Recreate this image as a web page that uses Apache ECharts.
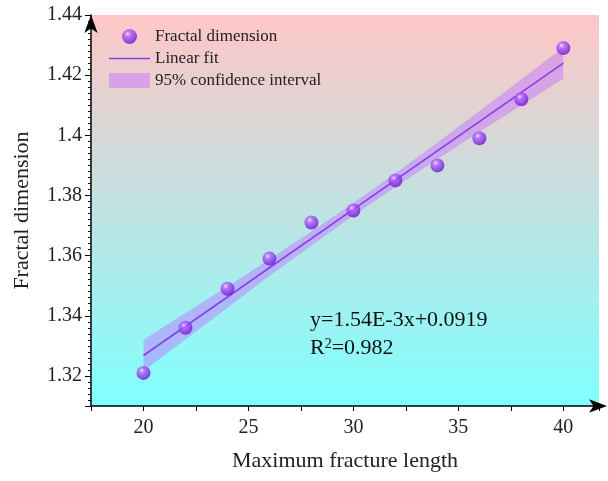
<!DOCTYPE html>
<html>
<head>
<meta charset="utf-8">
<script src="https://cdn.jsdelivr.net/npm/echarts@6/dist/echarts.min.js"></script>
<style>
  html, body { margin: 0; padding: 0; background: #fff; }
  #main { width: 608px; height: 481px; }
</style>
</head>
<body>
<div id="main"></div>
<script>
// measured points
var lengths = [20, 22, 24, 26, 28, 30, 32, 34, 36, 38, 40];
var fractalDim = [1.321, 1.336, 1.349, 1.359, 1.371, 1.375, 1.385, 1.390, 1.399, 1.412, 1.429];

// fit line ends and 95% band
var fitX = [20, 40];
var fitY = [1.3268, 1.4240];
var bandLower = [1.3216, 1.3322, 1.3427, 1.3532, 1.3634, 1.3733, 1.3828, 1.3920, 1.4011, 1.4100, 1.4188];
var bandUpper = [1.3320, 1.3409, 1.3497, 1.3588, 1.3680, 1.3775, 1.3874, 1.3976, 1.4081, 1.4186, 1.4292];

var xLabels = [20, 25, 30, 35, 40];
var yLabels = [1.32, 1.34, 1.36, 1.38, 1.40, 1.42, 1.44];

var FONT = "'Liberation Serif', 'Times New Roman', serif";
var PURPLE = "#8a3cf0";
var BAND = "rgba(190, 110, 255, 0.45)";

var ballColor = {
  type: "radial", x: 0.38, y: 0.32, r: 0.7,
  colorStops: [
    { offset: 0, color: "#f6e6ff" },
    { offset: 0.25, color: "#b565ff" },
    { offset: 1, color: "#6a10d0" },
  ],
};

document.addEventListener("DOMContentLoaded", function () {
  var chart = echarts.init(document.getElementById("main"));

  var option = {
    animation: false,
    grid: {
      left: 91, right: 9, top: 15, bottom: 75,
      show: true,
      borderWidth: 0,
      backgroundColor: {
        type: "linear", x: 0, y: 0, x2: 0, y2: 1,
        colorStops: [
          { offset: 0, color: "#ffc6c6" },
          { offset: 1, color: "#80ffff" },
        ],
      },
    },
    legend: {
      orient: "vertical",
      left: 104, top: 23,
      itemWidth: 41, itemHeight: 15, itemGap: 5,
      textStyle: { fontFamily: FONT, fontSize: 17, color: "#222" },
      data: [
        { name: "Fractal dimension", icon: "circle", itemStyle: { color: ballColor } },
        { name: "Linear fit", icon: "path://M0,0 L40,0 L40,1.6 L0,1.6 Z", itemStyle: { color: PURPLE } },
        { name: "95% confidence interval", icon: "rect", itemStyle: { color: BAND } },
      ],
    },
    xAxis: [
      {
        type: "value", min: 17.5, max: 41.7, interval: 2.5, position: "bottom",
        name: "Maximum fracture length", nameLocation: "middle", nameGap: 44,
        nameTextStyle: { fontFamily: FONT, fontSize: 22, color: "#222" },
        axisLine: { show: true, lineStyle: { color: "#000", width: 1.5 }, symbol: ["none", "arrow"], symbolSize: [10, 18], symbolOffset: [0, 8] },
        axisTick: { show: true, length: 5, lineStyle: { color: "#000", width: 1 } },
        axisLabel: { customValues: xLabels, margin: 12, fontFamily: FONT, fontSize: 20, color: "#222" },
        splitLine: { show: false },
      },
    ],
    yAxis: [
      {
        type: "value", min: 1.31, max: 1.44, minInterval: 0.02, maxInterval: 0.02, position: "left",
        name: "Fractal dimension", nameLocation: "middle", nameGap: 58,
        nameTextStyle: { fontFamily: FONT, fontSize: 22, color: "#222" },
        axisLine: { show: true, lineStyle: { color: "#000", width: 1.5 }, symbol: ["none", "arrow"], symbolSize: [10, 18] },
        axisTick: { show: true, length: 6, lineStyle: { color: "#000", width: 1 } },
        minorTick: { show: true, splitNumber: 10, length: 3, lineStyle: { color: "#000" } },
        axisLabel: { customValues: yLabels, margin: 9, fontFamily: FONT, fontSize: 20, color: "#222" },
        splitLine: { show: false },
      },
    ],
    series: [
      {
        name: "95% confidence interval",
        type: "custom",
        renderItem: function (params, api) {
          if (params.dataIndex !== 0) return null;
          var pts = [];
          for (var i = 0; i < lengths.length; i++) pts.push(api.coord([lengths[i], bandUpper[i]]));
          for (var j = lengths.length - 1; j >= 0; j--) pts.push(api.coord([lengths[j], bandLower[j]]));
          return { type: "polygon", shape: { points: pts }, style: { fill: BAND } };
        },
        itemStyle: { color: BAND },
        data: lengths.map(function (x, i) { return [x, bandLower[i], bandUpper[i]]; }),
        encode: { x: 0, y: [1, 2] },
        z: 1,
      },
      {
        name: "Linear fit",
        type: "line",
        symbol: "none",
        lineStyle: { color: PURPLE, width: 1.6 },
        itemStyle: { color: PURPLE },
        data: fitX.map(function (x, i) { return [x, fitY[i]]; }),
        z: 2,
      },
      {
        name: "Fractal dimension",
        type: "scatter",
        symbol: "circle",
        symbolSize: 14,
        itemStyle: { color: ballColor },
        data: lengths.map(function (x, i) { return [x, fractalDim[i]]; }),
        z: 3,
      },
    ],
    graphic: [
      {
        type: "text", left: 310, top: 309,
        style: { text: "y=1.54E-3x+0.0919", fontFamily: FONT, fontSize: 22, fill: "#111" },
      },
      {
        type: "text", left: 310, top: 337,
        style: {
          text: "R{sup|2}=0.982",
          fontFamily: FONT, fontSize: 22, fill: "#111",
          rich: { sup: { fontFamily: FONT, fontSize: 14, verticalAlign: "top", padding: [0, 0, 9, 0], fill: "#111" } },
        },
      },
    ],
  };

  chart.setOption(option);
});
</script>
</body>
</html>
